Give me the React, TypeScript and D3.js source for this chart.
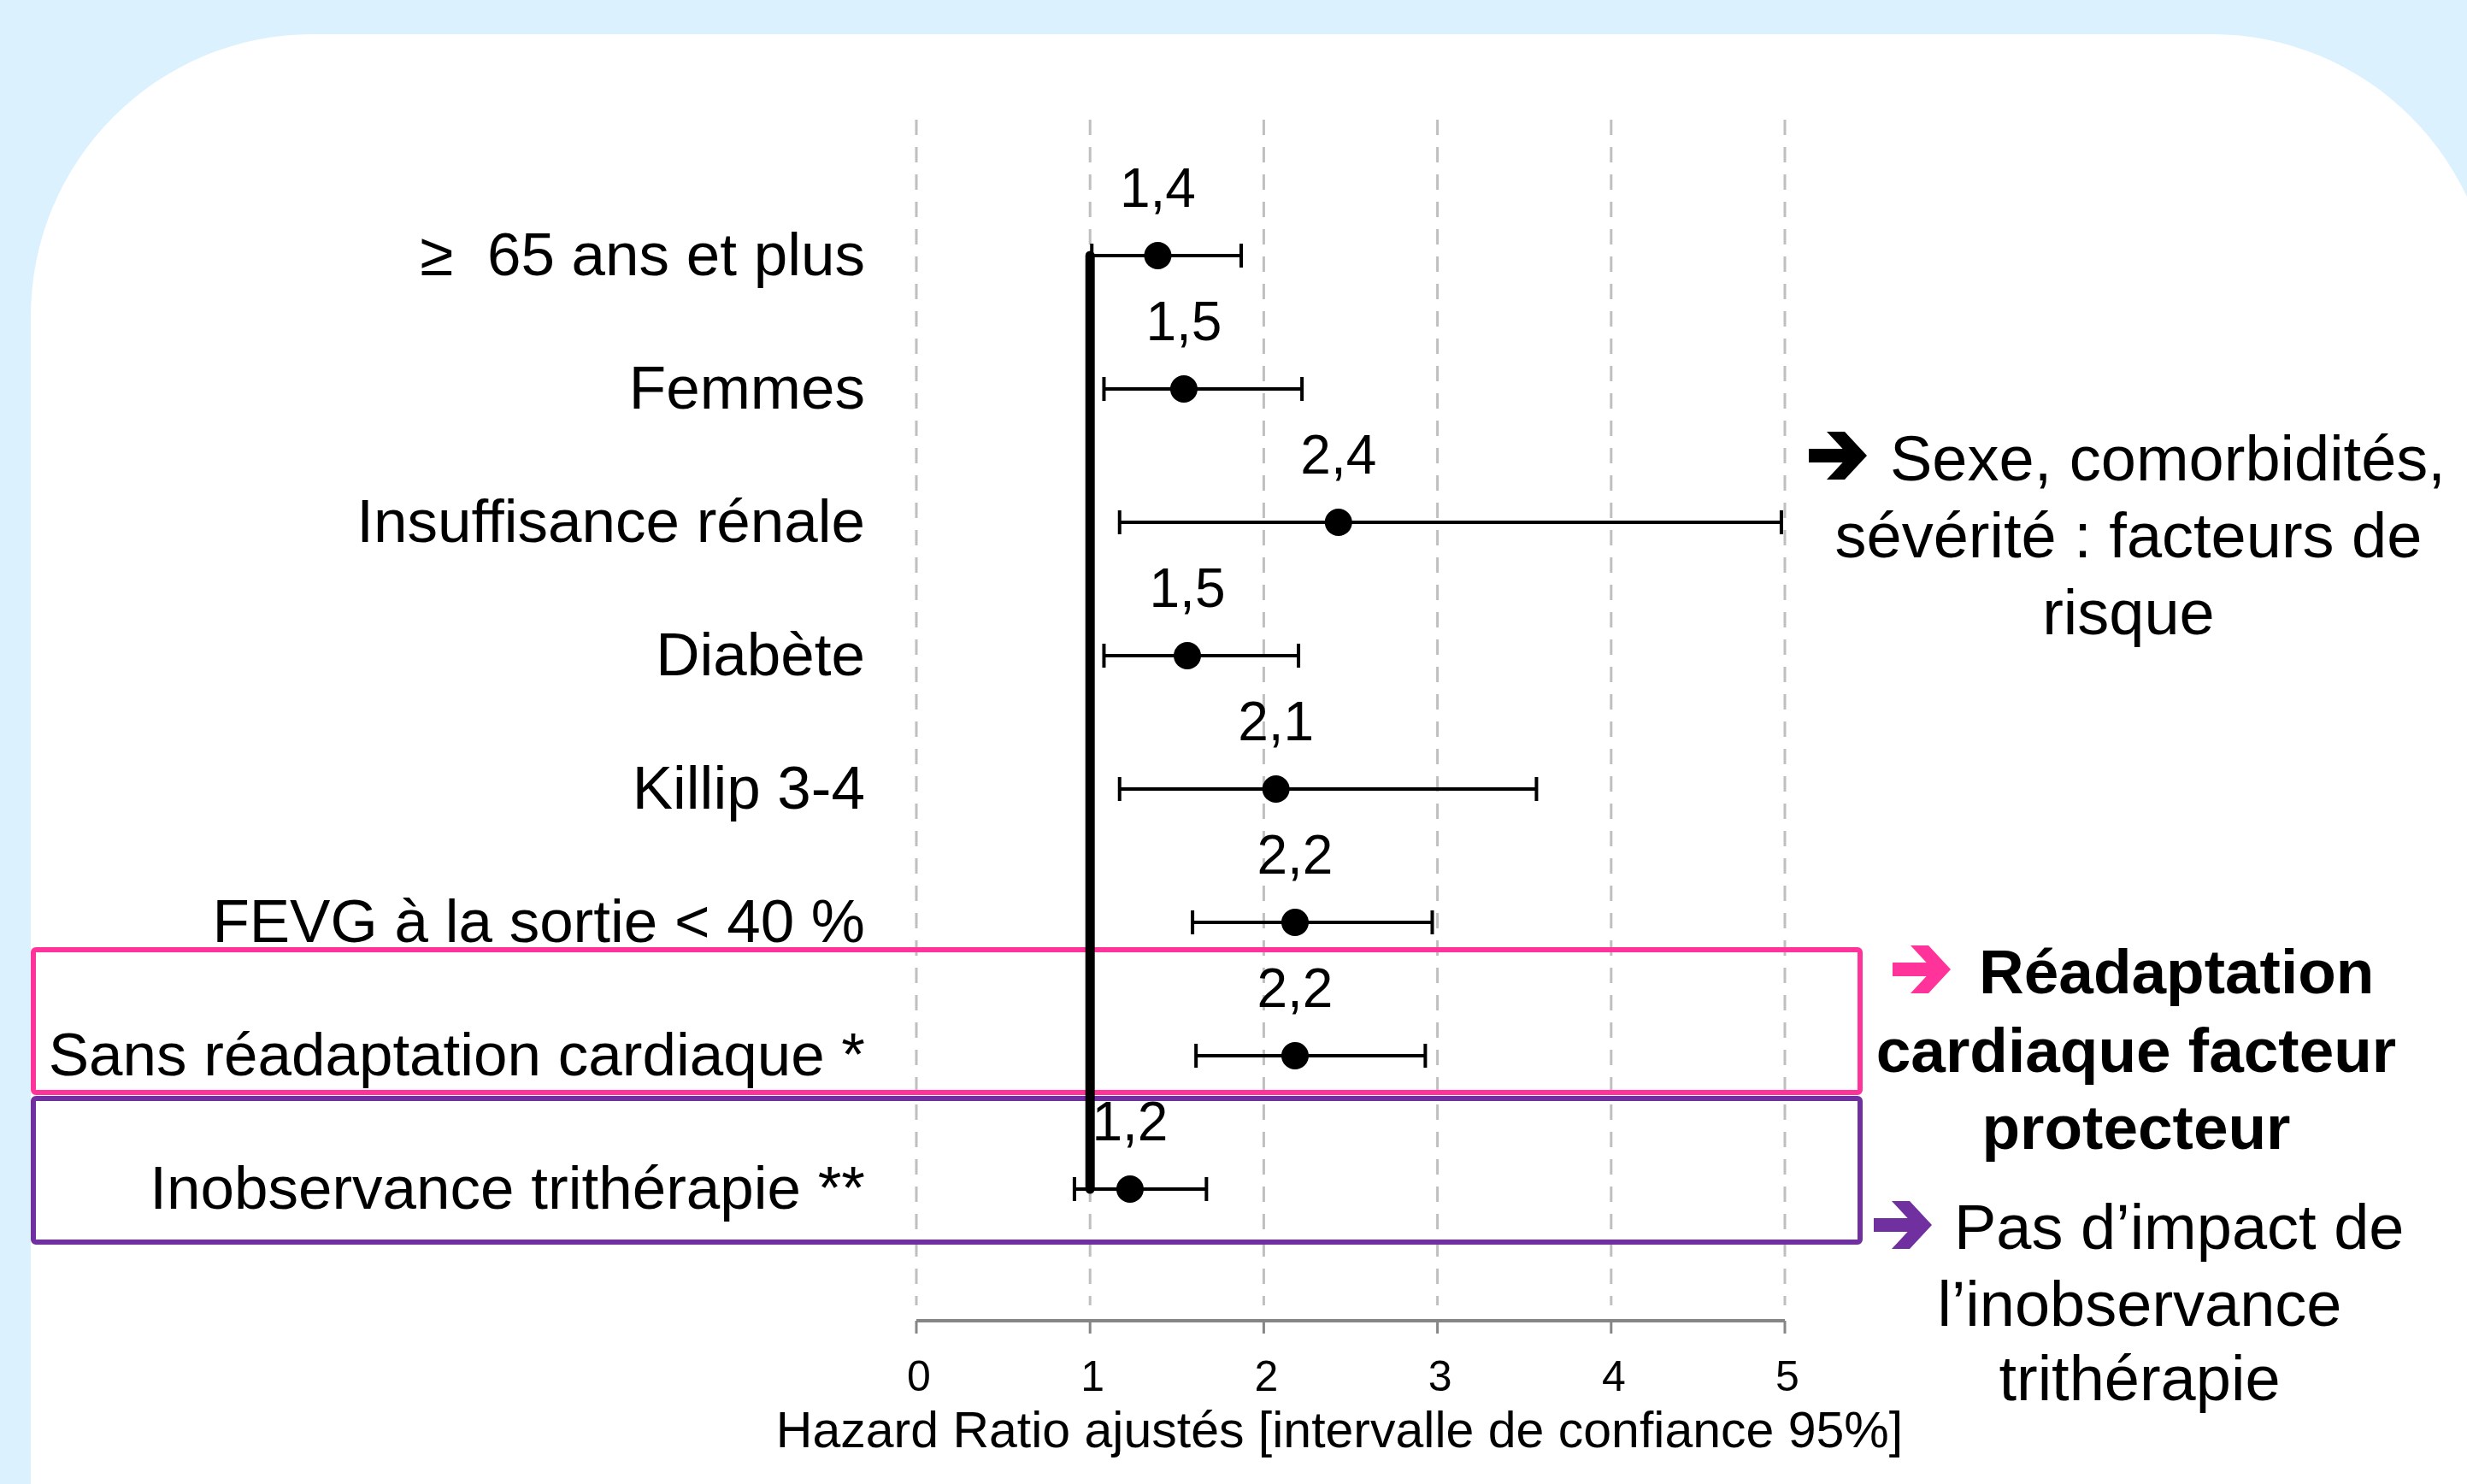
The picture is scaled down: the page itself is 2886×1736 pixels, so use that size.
import React from 'react';
import * as d3 from 'd3';

// forest plot values
const categories = [
  '≥  65 ans et plus',
  'Femmes',
  'Insuffisance rénale',
  'Diabète',
  'Killip 3-4',
  'FEVG à la sortie < 40 %',
  'Sans réadaptation cardiaque *',
  'Inobservance trithérapie **',
];
const hazardRatios = [1.39, 1.54, 2.43, 1.56, 2.07, 2.18, 2.18, 1.23];
const ciLow = [1.01, 1.08, 1.17, 1.08, 1.17, 1.59, 1.61, 0.91];
const ciHigh = [1.87, 2.22, 4.98, 2.2, 3.57, 2.97, 2.93, 1.67];
const hrLabels = ['1,4', '1,5', '2,4', '1,5', '2,1', '2,2', '2,2', '1,2'];
const xTicks = [0, 1, 2, 3, 4, 5];
const axisTitle = 'Hazard Ratio ajustés [intervalle de confiance 95%]';

const W = 2886;
const H = 1736;
const FONT = '"Liberation Sans", Arial, Helvetica, sans-serif';

const PINK = '#FF3399';
const PURPLE = '#7030A0';

// chevron arrow like the wingdings one, drawn from its left end
const arrowPath = (x0: number, yc: number) => {
  const pts = [
    [0, -8], [39.6, -8], [21, -28], [42, -28], [68, 0],
    [42, 28], [21, 28], [39.6, 8], [0, 8],
  ];
  return 'M' + pts.map(p => `${x0 + p[0]},${yc + p[1]}`).join('L') + 'Z';
};

const App = () => {
  const x = d3.scaleLinear().domain([0, 5]).range([1072, 2088]);
  const y = d3.scalePoint<string>().domain(categories).range([299, 1391]);

  const gridTop = 140;
  const gridBottom = 1527;
  const axisY = 1545;

  const textStyle = { whiteSpace: 'pre' } as React.CSSProperties;

  return (
    <svg
      width={W}
      height={H}
      viewBox={`0 0 ${W} ${H}`}
      style={{ position: 'absolute', left: 0, top: 0, display: 'block' }}
      fontFamily={FONT}
    >
      <rect x={0} y={0} width={W} height={H} fill="#DBF1FE" />
      <rect x={36} y={40} width={2881} height={2020} rx={330} ry={330} fill="#fff" />

      {/* dashed gridlines */}
      {xTicks.map(t => (
        <line
          key={'g' + t}
          x1={x(t)}
          x2={x(t)}
          y1={gridTop}
          y2={gridBottom}
          stroke="#BFBFBF"
          strokeWidth={3}
          strokeDasharray="18 14"
        />
      ))}

      {/* highlight boxes */}
      <rect x={39} y={1111} width={2137} height={167} fill="none" stroke={PINK} strokeWidth={6} rx={3} />
      <rect x={39} y={1285} width={2137} height={168} fill="none" stroke={PURPLE} strokeWidth={6} rx={3} />

      {/* x axis */}
      <line x1={x(0)} x2={x(5)} y1={axisY} y2={axisY} stroke="#868686" strokeWidth={4} />
      {xTicks.map(t => (
        <g key={'t' + t}>
          <line x1={x(t)} x2={x(t)} y1={axisY} y2={axisY + 15} stroke="#868686" strokeWidth={3} />
          <text x={x(t) + 3} y={1627} fontSize={50} textAnchor="middle" fill="#000">
            {t}
          </text>
        </g>
      ))}
      <text x={1567} y={1693} fontSize={59} textAnchor="middle" fill="#000" style={textStyle}>
        {axisTitle}
      </text>

      {/* reference line at HR = 1 */}
      <line
        x1={x(1)}
        x2={x(1)}
        y1={y(categories[0])}
        y2={y(categories[categories.length - 1])}
        stroke="#000"
        strokeWidth={11}
        strokeLinecap="round"
      />

      {/* rows */}
      {categories.map((c, i) => {
        const cy = y(c) as number;
        return (
          <g key={c}>
            <text x={1012} y={cy + 23} fontSize={71} textAnchor="end" fill="#000" style={textStyle}>
              {c}
            </text>
            <line x1={x(ciLow[i])} x2={x(ciHigh[i])} y1={cy} y2={cy} stroke="#000" strokeWidth={4} />
            <line x1={x(ciLow[i])} x2={x(ciLow[i])} y1={cy - 14} y2={cy + 14} stroke="#000" strokeWidth={4} />
            <line x1={x(ciHigh[i])} x2={x(ciHigh[i])} y1={cy - 14} y2={cy + 14} stroke="#000" strokeWidth={4} />
            <circle cx={x(hazardRatios[i])} cy={cy} r={16} fill="#000" />
            <text x={x(hazardRatios[i])} y={cy - 57} fontSize={64} textAnchor="middle" fill="#000">
              {hrLabels[i]}
            </text>
          </g>
        );
      })}

      {/* right-hand annotations */}
      <path d={arrowPath(2116, 533)} fill="#000" />
      <text x={2211} y={562} fontSize={74} fill="#000">Sexe, comorbidités,</text>
      <text x={2490} y={652} fontSize={74} textAnchor="middle" fill="#000">sévérité : facteurs de</text>
      <text x={2490} y={742} fontSize={74} textAnchor="middle" fill="#000">risque</text>

      <path d={arrowPath(2214, 1134)} fill={PINK} />
      <text x={2315} y={1162} fontSize={73} fontWeight="bold" fill="#000">Réadaptation</text>
      <text x={2499} y={1254} fontSize={73} fontWeight="bold" textAnchor="middle" fill="#000">cardiaque facteur</text>
      <text x={2499} y={1344} fontSize={73} fontWeight="bold" textAnchor="middle" fill="#000">protecteur</text>

      <path d={arrowPath(2192, 1433)} fill={PURPLE} />
      <text x={2286} y={1461} fontSize={74} fill="#000">Pas d’impact de</text>
      <text x={2503} y={1551} fontSize={74} textAnchor="middle" fill="#000">l’inobservance</text>
      <text x={2503} y={1638} fontSize={74} textAnchor="middle" fill="#000">trithérapie</text>
    </svg>
  );
};

export default App;
